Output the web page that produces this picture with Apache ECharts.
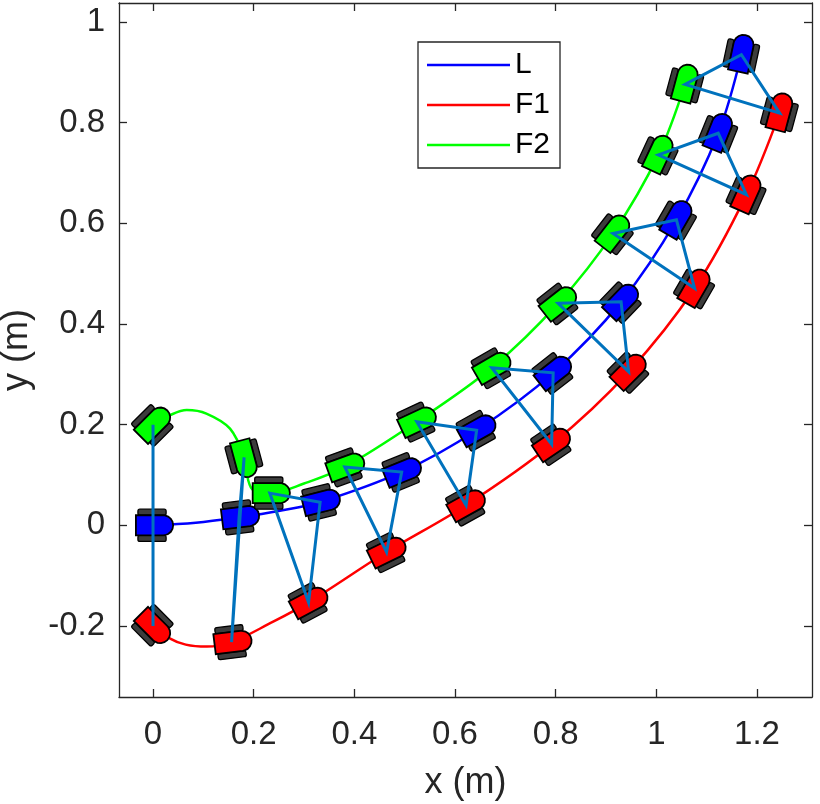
<!DOCTYPE html>
<html>
  <head>
    <meta charset="UTF-8" />
    <title>Formation trajectories</title>
    <style>
      html, body { margin: 0; padding: 0; background: #fff; }
      #chart { width: 820px; height: 804px; }
    </style>
    <script src="https://cdn.jsdelivr.net/npm/echarts@6/dist/echarts.min.js"></script>
  </head>
  <body>
    <div id="chart"></div>
    <script>
      // tick values
      const xTicks = [0, 0.2, 0.4, 0.6, 0.8, 1, 1.2];
      const yTicks = [-0.2, 0, 0.2, 0.4, 0.6, 0.8, 1];

      // trajectories
      const lPathX = [0, 0.085, 0.171, 0.252, 0.332, 0.494, 0.643, 0.795, 0.930, 1.040, 1.123, 1.169];
      const lPathY = [0, 0.005, 0.016, 0.029, 0.046, 0.106, 0.189, 0.303, 0.444, 0.607, 0.779, 0.935];
      const f1PathX = [0, 0.03, 0.065, 0.107, 0.156, 0.23, 0.309, 0.464, 0.622, 0.792, 0.945, 1.076, 1.179, 1.245];
      const f1PathY = [-0.2, -0.223, -0.237, -0.241, -0.232, -0.196, -0.153, -0.053, 0.040, 0.161, 0.305, 0.471, 0.657, 0.819];
      const f2PathX = [0, 0.034, 0.067, 0.106, 0.153, 0.181, 0.189, 0.199, 0.232, 0.30, 0.381, 0.524, 0.673, 0.805, 0.914, 1.004, 1.057];
      const f2PathY = [0.2, 0.219, 0.229, 0.222, 0.192, 0.135, 0.090, 0.070, 0.064, 0.083, 0.116, 0.206, 0.313, 0.441, 0.580, 0.736, 0.876];

      // robot snapshots: position and heading (deg)
      const lX = [0, 0.171, 0.332, 0.494, 0.643, 0.795, 0.930, 1.040, 1.123, 1.169];
      const lY = [0, 0.016, 0.046, 0.106, 0.189, 0.303, 0.444, 0.607, 0.779, 0.935];
      const lHead = [0, 7, 14, 22, 29, 38, 46, 60, 68, 78];
      const f1X = [0, 0.156, 0.309, 0.464, 0.622, 0.792, 0.945, 1.076, 1.179, 1.245];
      const f1Y = [-0.2, -0.232, -0.153, -0.053, 0.040, 0.161, 0.305, 0.471, 0.657, 0.819];
      const f1Head = [-45, 7, 28, 26, 29, 34, 45, 60, 66, 75];
      const f2X = [0, 0.181, 0.232, 0.381, 0.524, 0.673, 0.805, 0.914, 1.004, 1.057];
      const f2Y = [0.2, 0.135, 0.064, 0.116, 0.206, 0.313, 0.441, 0.580, 0.736, 0.876];
      const f2Head = [45, -75, 0, 20, 25, 30, 38, 52, 65, 75];

      const robotColors = ['#0000ff', '#ff0000', '#00ff00'];
      const axisColor = '#262626';
      const fontFamily = 'Liberation Sans, Arial, sans-serif';

      const zip = (xs, ys) => xs.map((x, i) => [x, ys[i]]);

      const robots = [];
      [[lX, lY, lHead], [f1X, f1Y, f1Head], [f2X, f2Y, f2Head]].forEach((r, k) => {
        r[0].forEach((x, i) => robots.push([x, r[1][i], r[2][i], k]));
      });
      const triangles = lX.map((_, i) => [f2X[i], f2Y[i], lX[i], lY[i], f1X[i], f1Y[i]]);

      // robot glyph, drawn in local pixels, heading along +x
      function renderRobot(params, api) {
        const c = api.coord([api.value(0), api.value(1)]);
        const k = api.size([1, 1])[0];
        const rot = api.value(2) * Math.PI / 180;
        const color = robotColors[api.value(3)];
        const hw = 0.02 * k, rear = -0.034 * k, front = 0.02 * k;
        const body = [[rear, -hw], [front, -hw]];
        for (let a = -80; a <= 80; a += 20) {
          const t = a * Math.PI / 180;
          body.push([front + hw * Math.cos(t), hw * Math.sin(t)]);
        }
        body.push([front, hw], [rear, hw]);
        const wheel = (y) => ({
          type: 'rect',
          shape: { x: -0.030 * k, y: y, width: 0.056 * k, height: 0.012 * k, r: 2 },
          style: { fill: '#3c3c3c', stroke: '#000', lineWidth: 1.3 }
        });
        return {
          type: 'group',
          x: c[0],
          y: c[1],
          rotation: rot,
          children: [
            wheel(-0.032 * k),
            wheel(0.020 * k),
            {
              type: 'polygon',
              shape: { points: body },
              style: { fill: color, stroke: '#000', lineWidth: 1.8 }
            }
          ]
        };
      }

      function renderTriangle(params, api) {
        const pts = [0, 2, 4].map(i => api.coord([api.value(i), api.value(i + 1)]));
        return {
          type: 'polygon',
          shape: { points: pts },
          style: { fill: 'none', stroke: '#0072bd', lineWidth: 3 }
        };
      }

      const tickFmt = v => String(+(+v).toFixed(1));
      const tickStyle = { color: axisColor, width: 1.3 };

      function valueAxis(extra) {
        return Object.assign({
          type: 'value',
          axisLine: { show: true, onZero: false, lineStyle: tickStyle },
          splitLine: { show: false },
          nameTextStyle: { fontSize: 36, color: axisColor, fontFamily: fontFamily }
        }, extra);
      }

      const chart = echarts.init(document.getElementById('chart'));
      chart.setOption({
        animation: false,
        backgroundColor: '#fff',
        grid: { left: 119, right: 8, top: 3, bottom: 107, outerBoundsMode: 'none', containLabel: false },
        legend: {
          data: [
            { name: 'L', icon: 'rect' },
            { name: 'F1', icon: 'rect' },
            { name: 'F2', icon: 'rect' }
          ],
          orient: 'vertical',
          left: 418,
          top: 42,
          padding: [8, 10, 8, 9],
          itemWidth: 83,
          itemHeight: 2.5,
          itemGap: 10,
          borderColor: axisColor,
          borderWidth: 1.3,
          backgroundColor: '#fff',
          textStyle: { fontSize: 30, lineHeight: 30, color: '#000', fontFamily: fontFamily }
        },
        xAxis: [
          valueAxis({
            min: -0.0676, max: 1.3093, position: 'bottom',
            name: 'x (m)', nameLocation: 'middle', nameGap: 68,
            axisTick: { show: true, inside: true, length: 8, customValues: xTicks, lineStyle: tickStyle },
            axisLabel: { customValues: xTicks, formatter: tickFmt, fontSize: 33, color: axisColor, margin: 21, fontFamily: fontFamily }
          }),
          valueAxis({
            min: -0.0676, max: 1.3093, position: 'top',
            axisTick: { show: true, inside: true, length: 8, customValues: xTicks, lineStyle: tickStyle },
            axisLabel: { show: false }
          })
        ],
        yAxis: [
          valueAxis({
            min: -0.3411, max: 1.0378, position: 'left',
            name: 'y (m)', nameLocation: 'middle', nameGap: 84,
            axisTick: { show: true, inside: true, length: 8, customValues: yTicks, lineStyle: tickStyle },
            axisLabel: { customValues: yTicks, formatter: tickFmt, fontSize: 33, color: axisColor, margin: 14, fontFamily: fontFamily }
          }),
          valueAxis({
            min: -0.3411, max: 1.0378, position: 'right',
            axisTick: { show: true, inside: true, length: 8, customValues: yTicks, lineStyle: tickStyle },
            axisLabel: { show: false }
          })
        ],
        series: [
          {
            name: 'L', type: 'line', data: zip(lPathX, lPathY), smooth: 0.35,
            symbol: 'none', showSymbol: false, color: robotColors[0], lineStyle: { width: 2.5 }, z: 2
          },
          {
            name: 'F1', type: 'line', data: zip(f1PathX, f1PathY), smooth: 0.35,
            symbol: 'none', showSymbol: false, color: robotColors[1], lineStyle: { width: 2.5 }, z: 2
          },
          {
            name: 'F2', type: 'line', data: zip(f2PathX, f2PathY), smooth: 0.35,
            symbol: 'none', showSymbol: false, color: robotColors[2], lineStyle: { width: 2.5 }, z: 2
          },
          {
            type: 'custom', renderItem: renderRobot, data: robots,
            encode: { x: 0, y: 1 }, z: 3, silent: true
          },
          {
            type: 'custom', renderItem: renderTriangle, data: triangles,
            encode: { x: [0, 2, 4], y: [1, 3, 5] }, z: 4, silent: true
          }
        ]
      });
    </script>
  </body>
</html>
